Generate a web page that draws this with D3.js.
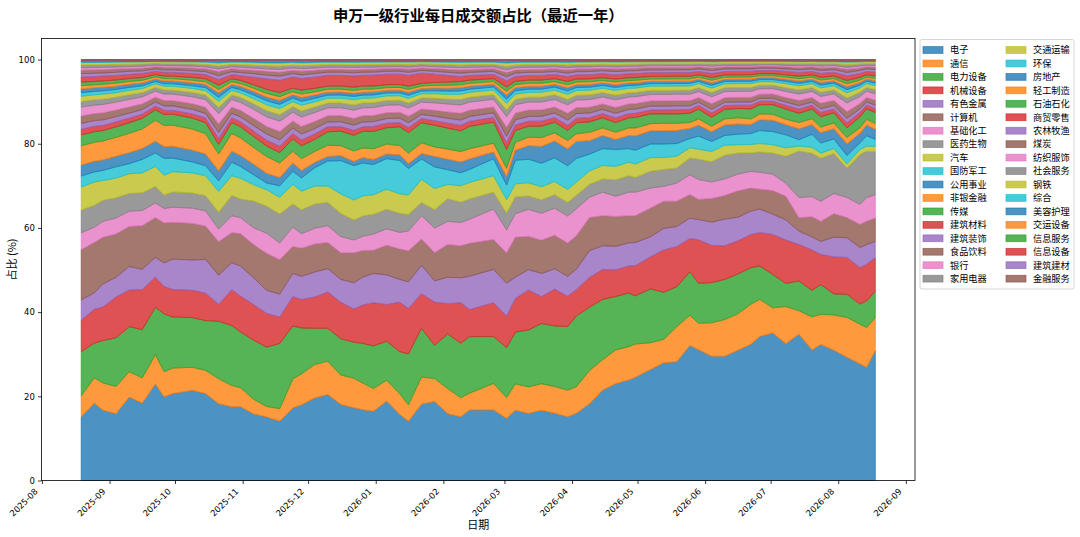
<!DOCTYPE html>
<html><head><meta charset="utf-8">
<script src="https://cdn.jsdelivr.net/npm/d3@7"></script>
<style>body{margin:0;background:#fff}svg{display:block}</style>
</head><body>
<svg id="chart" width="1080" height="537"></svg>
<script>
const dates = ["2025-08-19","2025-08-25","2025-08-29","2025-09-04","2025-09-10","2025-09-16","2025-09-22","2025-09-26","2025-09-30","2025-10-09",
"2025-10-15","2025-10-21","2025-10-27","2025-10-31","2025-11-06","2025-11-12","2025-11-18","2025-11-24","2025-11-28","2025-12-04",
"2025-12-10","2025-12-16","2025-12-22","2025-12-26","2025-12-31","2026-01-06","2026-01-12","2026-01-16","2026-01-22","2026-01-28",
"2026-02-03","2026-02-09","2026-02-13","2026-02-24","2026-03-02","2026-03-06","2026-03-12","2026-03-18","2026-03-24","2026-03-30",
"2026-04-03","2026-04-09","2026-04-15","2026-04-21","2026-04-27","2026-04-30","2026-05-07","2026-05-13","2026-05-19","2026-05-25",
"2026-05-29","2026-06-04","2026-06-10","2026-06-16","2026-06-22","2026-06-26","2026-07-02","2026-07-08","2026-07-14","2026-07-20",
"2026-07-24","2026-07-30","2026-08-05","2026-08-11","2026-08-14","2026-08-18"];

const names = ["电子","通信","电力设备","机械设备","有色金属","计算机","基础化工","医药生物","汽车","国防军工","公用事业","非银金融","传媒","建筑材料","建筑装饰","食品饮料","银行","家用电器","交通运输","环保","房地产","轻工制造","石油石化","商贸零售","农林牧渔","煤炭","纺织服饰","社会服务","钢铁","综合","美容护理","交运设备","信息服务","信息设备","建筑建材","金融服务"];

const yTicks = [0,20,40,60,80,100];
const monthTicks = ["2025-08","2025-09","2025-10","2025-11","2025-12","2026-01","2026-02","2026-03","2026-04","2026-05","2026-06","2026-07","2026-08","2026-09"];

// share of daily turnover, %
const dianzi = [15.1,18.3,16.7,15.9,19.8,18.3,23.0,19.8,20.6,21.4,20.6,18.3,17.5,17.5,15.9,15.1,14.3,17.5,18.3,19.8,20.6,18.3,17.5,17.0,16.7,19.0,15.9,14.3,18.3,19.0,15.9,15.1,16.7,16.7,14.8,16.7,15.9,16.7,15.9,15.1,15.9,18.3,21.4,23.0,23.8,24.6,26.2,27.8,28.2,32.0,31.0,29.4,29.4,31.0,32.5,34.1,35.0,32.5,34.9,31.0,32.5,31.0,29.4,27.8,27.0,31.0];
const tongxin = [5.0,6.0,6.5,6.5,6.0,6.0,7.0,6.0,6.0,5.5,5.5,6.0,5.0,4.5,3.5,2.5,3.0,7.0,7.5,8.0,8.0,7.1,7.1,6.4,5.5,5.0,5.0,4.0,6.5,5.5,6.0,4.5,4.0,6.3,5.0,6.3,6.3,6.3,6.3,6.3,6.3,7.9,7.2,8.0,7.9,7.9,6.3,5.5,8.3,7.2,6.3,7.9,8.7,8.7,9.6,8.8,6.0,8.8,5.6,7.9,7.2,8.4,9.5,9.5,9.5,7.9];
const dianli = [10.5,8.2,10.1,11.6,10.7,11.4,11.3,13.7,12.1,11.8,11.8,13.7,14.2,13.2,14.1,14.1,15.7,12.8,11.1,8.7,7.9,8.7,8.7,9.5,10.3,9.3,10.1,12.3,11.7,8.0,13.0,12.9,13.4,11.1,11.9,12.3,13.5,14.3,14.3,15.1,16.7,15.1,14.3,12.7,12.7,11.5,12.7,11.1,9.5,10.3,9.5,9.5,9.5,9.5,8.7,7.9,7.9,5.5,7.1,6.3,7.1,5.0,5.5,4.8,6.4,6.3];
const jixie = [7.5,8.0,8.0,9.7,8.7,9.5,7.2,6.5,6.5,6.5,6.5,4.0,8.5,8.5,8.5,8.0,6.4,7.1,6.9,7.5,8.7,8.8,8.0,9.2,10.4,8.8,11.9,11.0,8.3,10.4,7.2,9.6,6.4,8.0,7.5,8.0,9.5,6.4,8.7,7.2,6.3,7.1,7.1,6.3,6.4,7.2,7.6,10.0,9.5,7.9,10.3,8.8,8.0,7.9,7.9,7.9,9.5,10.3,8.7,9.6,7.2,8.8,8.8,8.7,8.7,8.0];
const youse = [4.8,3.9,5.5,4.7,5.6,4.8,4.7,5.6,7.2,7.2,8.0,7.0,6.4,7.1,6.4,5.5,5.5,5.6,5.6,6.0,5.6,5.5,6.3,6.7,7.1,7.1,5.5,6.4,6.8,5.1,6.3,5.9,7.9,7.9,7.9,5.1,4.8,5.5,4.8,4.7,4.8,6.4,5.6,5.6,5.5,5.5,4.7,5.1,4.8,4.8,4.8,5.5,6.3,5.6,5.6,5.6,4.8,4.8,3.2,3.1,3.1,4.7,4.7,4.8,4.7,3.9];
const jisuanji = [11.9,11.9,11.1,10.3,9.5,10.3,9.5,9.5,8.7,8.7,7.9,8.0,7.1,7.7,7.9,8.8,8.3,6.5,6.8,6.7,6.3,6.4,7.2,6.4,5.6,7.1,7.3,7.5,6.3,6.8,7.8,7.6,7.8,7.1,7.2,9.5,7.9,7.9,7.9,7.9,7.9,7.9,7.1,7.1,6.4,6.4,6.8,6.4,6.0,5.6,4.8,5.6,5.6,6.3,5.5,4.7,5.6,5.6,3.2,4.8,4.8,5.6,4.8,5.5,5.6,5.6];
const jichu = [4.0,3.6,3.8,3.8,3.6,3.6,3.5,3.4,3.6,3.6,3.6,3.0,4.0,3.8,4.0,4.8,4.0,4.7,3.5,3.8,4.0,3.9,3.1,3.4,3.9,3.9,4.0,4.8,5.6,5.9,5.5,5.5,5.7,7.2,5.5,5.6,6.4,6.4,6.4,6.4,6.4,4.8,5.6,4.8,5.6,5.6,4.7,3.5,4.3,4.7,4.7,3.9,3.9,4.0,4.0,4.0,3.9,3.1,4.8,4.8,4.8,4.8,4.8,4.8,5.6,5.6];
const yiyao = [5.4,5.2,5.0,4.8,4.2,4.2,3.9,3.2,3.6,3.6,3.6,4.0,4.8,4.4,6.4,6.4,7.0,5.6,5.8,5.8,5.6,5.6,4.8,4.9,4.8,4.7,4.6,4.0,3.2,4.4,5.4,4.8,4.8,4.0,4.0,4.0,3.2,3.2,3.2,3.2,3.2,3.1,3.1,3.9,3.9,3.5,4.0,4.0,3.6,4.0,4.8,4.8,5.6,5.0,4.4,4.8,5.0,6.4,11.1,10.3,10.3,9.5,7.0,11.9,11.1,10.3];
const qiche = [5.5,5.5,4.7,4.7,4.7,4.7,4.8,4.7,4.8,4.8,4.7,5.0,4.7,4.9,3.9,3.9,4.0,4.7,4.5,4.3,3.9,4.7,4.8,4.8,4.7,4.8,4.7,4.7,5.5,5.1,3.4,3.9,3.9,3.9,3.2,3.1,3.1,3.1,3.1,3.1,3.1,3.2,3.2,3.2,3.2,3.2,3.2,2.8,2.8,2.4,2.4,2.4,2.4,2.0,2.0,2.0,2.0,2.0,1.2,1.4,1.2,1.2,1.0,1.2,1.2,1.2];
const guofang = [2.6,2.4,2.4,2.7,2.4,3.2,3.2,4.0,3.2,2.6,2.4,2.5,3.2,2.8,2.4,1.6,2.8,3.2,3.2,4.4,6.0,8.0,8.3,7.9,7.3,7.3,8.0,6.4,4.9,5.2,3.5,3.1,3.1,4.0,3.5,5.6,5.6,5.6,5.6,5.6,5.6,4.0,4.0,4.0,3.2,3.3,3.2,3.2,3.0,2.2,3.1,2.4,2.3,2.5,2.6,3.1,3.1,3.1,1.5,3.1,2.4,2.3,2.0,1.6,2.5,1.7];
const gongyong = [2.6,2.5,2.5,2.5,2.6,2.6,2.8,2.8,2.8,2.8,2.8,2.4,2.6,2.6,2.5,2.3,2.0,2.0,1.8,1.3,1.1,1.2,1.0,1.3,1.2,1.1,1.4,1.2,1.3,2.5,2.5,2.5,2.5,1.6,2.0,2.4,3.2,4.0,4.0,4.0,4.0,3.2,3.1,2.4,3.1,3.4,3.1,3.1,3.1,2.4,2.6,2.3,2.5,2.4,2.2,2.5,2.7,2.4,2.6,2.3,2.5,2.4,2.8,2.3,2.5,2.4];
const feiyin = [4.6,4.5,4.5,4.5,4.6,4.6,5.0,5.0,5.0,5.0,4.8,4.0,4.2,4.2,4.0,4.0,3.5,2.8,2.9,2.6,2.7,2.4,2.5,2.3,2.6,2.4,2.2,2.5,2.6,2.3,2.4,2.5,2.4,2.1,2.0,1.9,2.0,2.1,1.9,2.0,1.8,2.0,1.8,1.7,1.8,1.9,1.7,1.8,1.7,1.4,1.5,1.3,1.4,1.5,1.3,1.4,1.4,1.3,1.5,1.4,1.3,1.4,1.5,1.3,1.4,1.4];
const chuanmei = [2.6,2.5,2.5,2.5,2.5,2.5,2.5,2.6,2.6,2.6,2.6,2.3,2.6,2.6,2.6,2.5,2.5,3.0,3.1,2.9,3.2,3.5,3.8,4.0,4.2,3.9,4.5,5.0,4.8,5.2,5.0,4.9,5.3,5.0,4.5,2.8,2.6,2.7,2.5,2.4,2.6,2.5,2.4,2.3,2.4,2.5,2.3,2.2,2.2,2.2,2.3,2.1,2.3,2.2,2.4,2.2,2.3,2.4,2.2,2.3,2.5,2.4,2.3,2.6,2.5,2.6];
const jiancai = [1.3,1.3,1.2,1.2,1.1,1.0,0.9,1.0,0.9,1.0,1.1,1.4,1.1,1.2,1.3,1.4,1.5,1.3,1.4,1.3,1.2,1.1,1.2,1.1,1.2,1.1,1.0,1.2,1.0,1.1,1.2,1.3,1.2,1.1,1.6,1.3,1.2,1.2,1.1,1.2,1.1,1.0,1.0,1.1,1.0,1.0,0.9,0.9,1.0,0.9,0.9,1.0,0.9,0.8,0.9,0.8,0.8,0.9,1.0,0.9,1.0,0.9,1.2,1.0,0.9,0.9];
const jianzhuang = [1.4,1.35,1.35,1.25,1.2,1.1,0.95,1.05,1.05,1.1,1.1,1.45,1.1,1.15,1.3,1.45,1.55,1.3,1.45,1.3,1.15,1.15,1.25,1.15,1.15,1.1,1.1,1.15,1.0,1.1,1.15,1.25,1.15,1.1,1.55,1.25,1.15,1.15,1.1,1.25,1.1,1.1,1.0,1.1,1.0,1.0,0.95,0.95,0.95,0.85,0.75,0.9,0.75,0.75,0.75,0.7,0.7,0.75,0.85,0.75,0.9,0.85,1.05,0.9,0.75,0.85];
const shipin = [1.75,1.65,1.65,1.55,1.45,1.35,1.15,1.25,1.25,1.35,1.45,2.0,1.45,1.55,1.75,1.8,2.0,1.7,1.8,1.7,1.5,1.5,1.6,1.5,1.5,1.4,1.4,1.6,1.3,1.4,1.5,1.6,1.5,1.4,2.1,1.6,1.5,1.5,1.4,1.6,1.4,1.4,1.3,1.4,1.3,1.3,1.2,1.2,1.2,1.2,1.1,1.3,1.1,1.1,1.1,1.0,1.0,1.1,1.2,1.1,1.3,1.2,1.6,1.3,1.1,1.2];
const yinhang = [2.15,2.0,2.0,1.9,1.8,1.65,1.45,1.55,1.55,1.65,1.8,2.5,1.8,1.9,2.15,2.3,2.5,2.15,2.3,2.15,1.9,1.9,2.0,1.9,1.9,1.8,1.8,2.0,1.65,1.8,1.9,2.0,1.9,1.8,2.6,2.0,1.9,1.9,1.8,2.0,1.8,1.8,1.65,1.8,1.65,1.65,1.55,1.55,1.55,1.55,1.45,1.65,1.45,1.45,1.45,1.3,1.3,1.45,1.55,1.45,1.65,1.55,2.1,1.65,1.45,1.55];
const jiadian = [1.3,1.25,1.25,1.15,1.1,1.0,0.9,0.95,0.95,1.0,1.1,1.45,1.1,1.15,1.3,1.45,1.55,1.3,1.45,1.3,1.15,1.15,1.25,1.15,1.15,1.1,1.1,1.15,1.0,1.1,1.15,1.25,1.15,1.1,1.55,1.25,1.15,1.15,1.1,1.25,1.1,1.1,1.0,1.1,1.0,1.0,0.95,0.95,0.95,0.95,0.9,1.0,0.9,0.9,0.9,0.8,0.8,0.9,0.95,0.9,1.0,0.95,1.15,1.0,0.9,0.95];
const jiaotong = [1.25,1.2,1.2,1.1,1.05,0.95,0.85,0.9,0.9,0.95,1.05,1.5,1.05,1.1,1.25,1.4,1.5,1.25,1.4,1.25,1.15,1.15,1.25,1.15,1.15,1.1,1.1,1.15,1.0,1.1,1.15,1.25,1.15,1.1,1.6,1.25,1.15,1.15,1.1,1.25,1.15,1.15,1.05,1.15,1.05,1.05,1.0,1.0,1.0,1.0,0.95,1.05,0.95,0.95,0.95,0.85,0.85,0.95,1.0,0.95,1.05,1.0,1.25,1.05,0.95,1.0];
const huanbao = [0.85,0.8,0.8,0.75,0.7,0.65,0.55,0.6,0.6,0.65,0.7,0.95,0.7,0.75,0.85,0.95,1.0,0.85,0.95,0.85,0.75,0.75,0.8,0.75,0.75,0.7,0.7,0.75,0.65,0.7,0.75,0.8,0.75,0.7,1.0,0.8,0.75,0.75,0.7,0.8,0.7,0.7,0.65,0.7,0.65,0.65,0.6,0.6,0.6,0.6,0.55,0.65,0.55,0.55,0.55,0.5,0.5,0.55,0.6,0.55,0.65,0.6,0.75,0.65,0.55,0.6];
const fangdichan = [0.9,0.85,0.85,0.8,0.75,0.7,0.6,0.65,0.65,0.7,0.75,1.0,0.7,0.75,0.85,0.9,0.95,0.8,0.9,0.8,0.7,0.7,0.75,0.7,0.7,0.65,0.65,0.7,0.6,0.65,0.7,0.75,0.7,0.65,0.95,0.75,0.7,0.7,0.65,0.75,0.65,0.65,0.6,0.65,0.6,0.6,0.55,0.55,0.55,0.55,0.5,0.6,0.5,0.5,0.5,0.45,0.45,0.5,0.55,0.5,0.6,0.55,0.7,0.6,0.5,0.55];
const qinggong = [0.75,0.7,0.7,0.7,0.65,0.6,0.5,0.55,0.55,0.6,0.65,0.85,0.65,0.7,0.75,0.85,0.9,0.75,0.85,0.75,0.7,0.7,0.7,0.7,0.7,0.65,0.65,0.7,0.6,0.65,0.7,0.7,0.7,0.65,0.9,0.7,0.7,0.7,0.65,0.7,0.65,0.65,0.6,0.65,0.6,0.6,0.55,0.55,0.55,0.55,0.5,0.6,0.5,0.5,0.5,0.45,0.45,0.5,0.55,0.5,0.6,0.55,0.7,0.6,0.5,0.55];
const shiyou = [0.85,0.8,0.8,0.75,0.7,0.65,0.55,0.6,0.6,0.65,0.7,1.05,0.7,0.75,0.85,0.95,1.0,0.85,0.95,0.85,0.75,0.75,0.8,0.75,0.75,0.7,0.7,0.8,0.65,0.7,0.75,0.8,0.75,0.7,1.05,0.8,0.75,0.75,0.7,0.8,0.7,0.7,0.65,0.7,0.65,0.65,0.6,0.6,0.6,0.6,0.55,0.65,0.55,0.55,0.55,0.5,0.5,0.55,0.6,0.55,0.65,0.6,0.8,0.65,0.55,0.6];
const shangmao = [1.2,1.15,1.15,1.1,1.0,0.95,0.8,0.9,0.9,0.95,1.0,1.3,1.0,1.1,1.8,2.5,2.95,2.7,2.8,2.7,2.6,2.6,2.65,2.6,2.6,2.5,2.5,2.6,2.45,2.0,1.6,1.15,1.1,1.0,1.45,1.15,1.1,1.1,1.0,1.15,1.0,1.0,0.95,1.0,0.95,0.95,0.9,0.9,0.9,0.9,0.8,0.95,0.8,0.8,0.8,0.75,0.75,0.8,0.9,0.8,0.95,0.9,1.1,0.95,0.8,0.9];
const nonglin = [0.8,0.8,0.75,0.75,0.7,0.65,0.55,0.6,0.6,0.65,0.7,0.95,0.7,0.75,0.85,0.9,1.0,0.85,0.9,0.85,0.75,0.75,0.8,0.75,0.75,0.7,0.7,0.75,0.65,0.7,0.75,0.8,0.75,0.7,1.0,0.8,0.75,0.75,0.7,0.8,0.75,0.75,0.7,0.75,0.7,0.7,0.65,0.65,0.65,0.65,0.6,0.7,0.6,0.6,0.6,0.55,0.55,0.6,0.65,0.6,0.7,0.65,0.8,0.7,0.6,0.65];
const meitan = [0.85,0.8,0.8,0.75,0.7,0.65,0.55,0.6,0.6,0.65,0.7,1.0,0.7,0.75,0.8,0.9,0.95,0.8,0.9,0.8,0.7,0.7,0.75,0.7,0.7,0.65,0.65,0.75,0.6,0.65,0.7,0.75,0.7,0.65,1.0,0.75,0.7,0.7,0.65,0.75,0.65,0.65,0.6,0.65,0.6,0.6,0.55,0.55,0.55,0.55,0.5,0.6,0.5,0.5,0.5,0.45,0.45,0.5,0.55,0.5,0.6,0.55,0.75,0.6,0.5,0.55];
const fangzhi = [0.55,0.55,0.55,0.5,0.45,0.45,0.35,0.4,0.4,0.45,0.45,0.6,0.45,0.5,0.55,0.6,0.65,0.55,0.6,0.55,0.5,0.5,0.55,0.5,0.5,0.45,0.45,0.5,0.45,0.45,0.5,0.55,0.5,0.45,0.65,0.55,0.5,0.5,0.45,0.55,0.45,0.45,0.45,0.45,0.45,0.45,0.4,0.4,0.4,0.4,0.35,0.45,0.35,0.35,0.35,0.35,0.35,0.35,0.4,0.35,0.45,0.4,0.5,0.45,0.35,0.4];
const shehui = [0.65,0.6,0.6,0.6,0.55,0.5,0.45,0.45,0.45,0.5,0.55,0.7,0.55,0.6,0.65,0.7,0.8,0.65,0.7,0.65,0.6,0.6,0.6,0.6,0.6,0.55,0.55,0.6,0.5,0.55,0.6,0.6,0.6,0.55,0.8,0.6,0.6,0.6,0.55,0.6,0.55,0.55,0.5,0.55,0.5,0.5,0.45,0.45,0.45,0.45,0.45,0.5,0.45,0.45,0.45,0.4,0.4,0.45,0.45,0.45,0.5,0.45,0.6,0.5,0.45,0.45];
const gangtie = [0.6,0.6,0.55,0.55,0.5,0.5,0.4,0.45,0.45,0.5,0.55,0.75,0.55,0.6,0.65,0.7,0.75,0.65,0.7,0.65,0.6,0.6,0.6,0.6,0.6,0.55,0.55,0.6,0.5,0.55,0.6,0.65,0.6,0.55,0.8,0.65,0.6,0.6,0.55,0.65,0.6,0.6,0.55,0.6,0.55,0.55,0.5,0.5,0.5,0.5,0.45,0.5,0.45,0.45,0.45,0.4,0.4,0.45,0.5,0.45,0.5,0.45,0.6,0.5,0.45,0.45];
const zonghe = [0.16,0.15,0.15,0.14,0.14,0.13,0.11,0.12,0.12,0.13,0.14,0.18,0.14,0.14,0.16,0.18,0.19,0.16,0.18,0.16,0.14,0.14,0.15,0.14,0.14,0.14,0.14,0.14,0.13,0.14,0.14,0.15,0.14,0.14,0.19,0.15,0.14,0.14,0.14,0.15,0.14,0.14,0.13,0.14,0.13,0.13,0.12,0.12,0.12,0.12,0.11,0.13,0.11,0.11,0.11,0.1,0.1,0.11,0.12,0.11,0.13,0.12,0.14,0.13,0.11,0.12];
const meirong = [0.28,0.26,0.26,0.24,0.23,0.21,0.18,0.2,0.2,0.21,0.23,0.3,0.23,0.24,0.28,0.3,0.32,0.28,0.3,0.28,0.24,0.24,0.26,0.24,0.24,0.23,0.23,0.24,0.21,0.23,0.24,0.26,0.24,0.23,0.32,0.26,0.24,0.24,0.23,0.26,0.23,0.23,0.21,0.23,0.21,0.21,0.2,0.2,0.2,0.2,0.18,0.21,0.18,0.18,0.18,0.17,0.17,0.18,0.2,0.18,0.21,0.2,0.24,0.21,0.18,0.2];
const jiaoyunshebei = [0.05,0.05,0.05,0.04,0.04,0.04,0.03,0.04,0.04,0.04,0.04,0.06,0.04,0.05,0.05,0.06,0.06,0.05,0.06,0.05,0.05,0.05,0.05,0.05,0.05,0.04,0.04,0.05,0.04,0.04,0.05,0.05,0.05,0.04,0.06,0.05,0.05,0.05,0.04,0.05,0.04,0.04,0.04,0.04,0.04,0.04,0.04,0.04,0.04,0.04,0.03,0.04,0.03,0.03,0.03,0.03,0.03,0.03,0.04,0.03,0.04,0.04,0.05,0.04,0.03,0.04];
const xinxifuwu = [0.06,0.06,0.06,0.05,0.05,0.05,0.04,0.05,0.05,0.05,0.05,0.07,0.05,0.05,0.06,0.07,0.07,0.06,0.07,0.06,0.05,0.05,0.06,0.05,0.05,0.05,0.05,0.05,0.05,0.05,0.05,0.06,0.05,0.05,0.07,0.06,0.05,0.05,0.05,0.06,0.05,0.05,0.05,0.05,0.05,0.05,0.04,0.04,0.04,0.04,0.04,0.05,0.04,0.04,0.04,0.04,0.04,0.04,0.04,0.04,0.05,0.04,0.05,0.05,0.04,0.04];
const xinxishebei = [0.05,0.05,0.05,0.05,0.04,0.04,0.04,0.04,0.04,0.04,0.05,0.06,0.05,0.05,0.05,0.06,0.06,0.05,0.06,0.05,0.05,0.05,0.05,0.05,0.05,0.05,0.04,0.05,0.04,0.05,0.05,0.05,0.05,0.05,0.06,0.05,0.05,0.05,0.05,0.05,0.05,0.04,0.04,0.05,0.04,0.04,0.04,0.04,0.04,0.04,0.04,0.04,0.04,0.04,0.04,0.03,0.03,0.04,0.04,0.04,0.04,0.04,0.05,0.04,0.04,0.04];
const jianzhujiancai = [0.04,0.04,0.04,0.04,0.04,0.04,0.03,0.03,0.03,0.04,0.04,0.05,0.04,0.04,0.04,0.05,0.05,0.04,0.05,0.04,0.04,0.04,0.04,0.04,0.04,0.04,0.04,0.04,0.03,0.04,0.04,0.04,0.04,0.04,0.05,0.04,0.04,0.04,0.04,0.04,0.04,0.04,0.03,0.04,0.03,0.03,0.03,0.03,0.03,0.03,0.03,0.03,0.03,0.03,0.03,0.03,0.03,0.03,0.03,0.03,0.03,0.03,0.04,0.03,0.03,0.03];
const jinrongfuwu = [0.08,0.08,0.08,0.07,0.07,0.07,0.06,0.06,0.06,0.07,0.07,0.09,0.07,0.07,0.08,0.09,0.1,0.08,0.09,0.08,0.07,0.07,0.08,0.07,0.07,0.07,0.07,0.07,0.06,0.07,0.07,0.08,0.07,0.07,0.1,0.08,0.07,0.07,0.07,0.08,0.07,0.07,0.06,0.07,0.06,0.06,0.06,0.06,0.06,0.06,0.05,0.06,0.05,0.05,0.05,0.05,0.05,0.05,0.06,0.05,0.06,0.06,0.07,0.06,0.05,0.06];

const seriesValues = [dianzi,tongxin,dianli,jixie,youse,jisuanji,jichu,yiyao,qiche,guofang,gongyong,feiyin,chuanmei,jiancai,jianzhuang,shipin,yinhang,jiadian,jiaotong,huanbao,fangdichan,qinggong,shiyou,shangmao,nonglin,meitan,fangzhi,shehui,gangtie,zonghe,meirong,jiaoyunshebei,xinxifuwu,xinxishebei,jianzhujiancai,jinrongfuwu];

const CJK = "'Noto Sans CJK SC','Noto Sans CJK JP',sans-serif";
const NUM = "'DejaVu Sans',sans-serif";
const svg = d3.select("#chart");
const L = 41.5, R = 915, T = 38.5, B = 480.5;

const parse = d3.timeParse("%Y-%m-%d");
const xs = dates.map(parse);
const span = xs[xs.length-1] - xs[0];
const x = d3.scaleTime()
  .domain([new Date(+xs[0] - 0.05*span), new Date(+xs[xs.length-1] + 0.05*span)])
  .range([L, R]);
const y = d3.scaleLinear().domain([0, 105]).range([B, T]);
const color = d3.scaleOrdinal().domain(names).range(d3.schemeCategory10.concat(d3.schemeCategory10, d3.schemeCategory10, d3.schemeCategory10));

const rows = xs.map((d, i) => {
  const r = {date: d};
  names.forEach((n, j) => { r[n] = seriesValues[j][i]; });
  return r;
});
const layers = d3.stack().keys(names).offset(d3.stackOffsetExpand)(rows);
const area = d3.area().x(d => x(d.data.date)).y0(d => y(d[0]*100)).y1(d => y(d[1]*100));

svg.append("g").selectAll("path").data(layers).join("path")
  .attr("d", area)
  .attr("fill", d => color(d.key)).attr("fill-opacity", 0.8)
  .attr("stroke", d => color(d.key)).attr("stroke-opacity", 0.8)
  .attr("stroke-width", 0.9).attr("stroke-linejoin", "round");

// frame
svg.append("rect").attr("x", L).attr("y", T).attr("width", R-L).attr("height", B-T)
  .attr("fill", "none").attr("stroke", "#000").attr("stroke-width", 0.8);

// y axis
const yAxis = svg.append("g").attr("transform", `translate(${L},0)`)
  .call(d3.axisLeft(y).tickValues(yTicks).tickSize(3.5).tickPadding(3.2).tickFormat(d3.format("d")));
yAxis.select(".domain").remove();
yAxis.selectAll("line").attr("stroke", "#000").attr("stroke-width", 0.8);
yAxis.selectAll("text").attr("font-family", NUM).attr("font-size", 8.5).attr("fill", "#000");

// x axis
const tickDates = monthTicks.map(d3.timeParse("%Y-%m"));
const xAxis = svg.append("g").attr("transform", `translate(0,${B})`)
  .call(d3.axisBottom(x).tickValues(tickDates).tickSize(3.5).tickFormat(d3.timeFormat("%Y-%m")));
xAxis.select(".domain").remove();
xAxis.selectAll("line").attr("stroke", "#000").attr("stroke-width", 0.8);
xAxis.selectAll("text")
  .attr("font-family", NUM).attr("font-size", 8.5).attr("fill", "#000")
  .attr("y", 0).attr("dy", 0).attr("text-anchor", "end")
  .attr("transform", "translate(-4,11.5) rotate(-45)");

// labels
svg.append("text").attr("x", (L+R)/2).attr("y", 20.5).attr("text-anchor", "middle")
  .attr("font-family", CJK).attr("font-size", 15.3).attr("font-weight", "bold").attr("fill", "#000")
  .text("申万一级行业每日成交额占比（最近一年）");
svg.append("text").attr("x", (L+R)/2).attr("y", 529).attr("text-anchor", "middle")
  .attr("font-family", CJK).attr("font-size", 11).attr("fill", "#000").text("日期");
svg.append("text").attr("transform", `translate(16,${(T+B)/2}) rotate(-90)`).attr("text-anchor", "middle")
  .attr("font-family", CJK).attr("font-size", 11).attr("fill", "#000").text("占比 (%)");

// legend
const lg = svg.append("g");
lg.append("rect").attr("x", 920).attr("y", 39.5).attr("width", 154).attr("height", 249.5).attr("rx", 2)
  .attr("fill", "#fff").attr("fill-opacity", 0.8).attr("stroke", "#ccc").attr("stroke-width", 0.8);
names.forEach((n, i) => {
  const col = i < 18 ? 0 : 1, row = i % 18;
  const cy = 50 + row * 13.45;
  const hx = col ? 1006 : 923, tx = col ? 1033 : 950;
  lg.append("rect").attr("x", hx).attr("y", cy - 3.4).attr("width", 20).attr("height", 6.8)
    .attr("fill", color(n)).attr("fill-opacity", 0.8).attr("stroke", color(n)).attr("stroke-opacity", 0.8).attr("stroke-width", 0.8);
  lg.append("text").attr("x", tx).attr("y", cy).attr("dy", "0.36em")
    .attr("font-family", CJK).attr("font-size", 9.2).attr("fill", "#000").text(n);
});
</script>
</body></html>
